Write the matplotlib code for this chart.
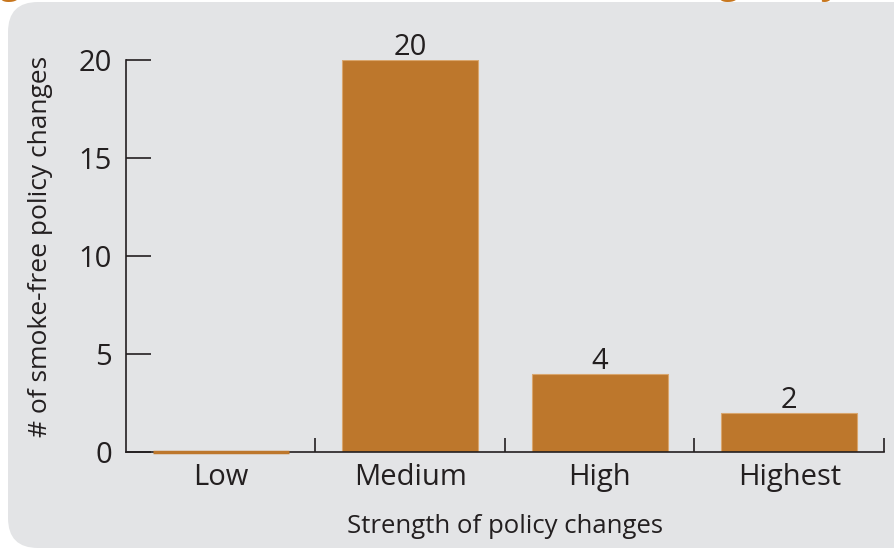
import matplotlib
matplotlib.use("Agg")
import matplotlib.pyplot as plt
from matplotlib.patches import FancyBboxPatch
import numpy as np

# Data
categories = ['Low', 'Medium', 'High', 'Highest']
counts = [0, 20, 4, 2]
y_ticks = [0, 5, 10, 15, 20]

bar_col = '#bd772c'
ink = '#231f20'
panel_col = '#e3e4e6'

plt.rcParams['font.family'] = ['Open Sans', 'DejaVu Sans']

fig = plt.figure(figsize=(8.95, 5.5), dpi=100)
fig.patch.set_facecolor('white')

# grey rounded panel behind the chart
panel = FancyBboxPatch((0.38, 0.32), 8.55, 4.86,
                       boxstyle='round,pad=0.3,rounding_size=0.3',
                       transform=fig.dpi_scale_trans, facecolor=panel_col,
                       edgecolor='none', zorder=-5)
fig.patches.append(panel)

# orange title, cut off at the top edge like in the source (only descenders show)
fig.text(-0.035, 1.013, 'Figure 5: Smoke-free local ordinance changes, by strength',
         color='#c8771e', fontsize=26, fontweight='bold', va='baseline', ha='left')

ax = fig.add_axes([126 / 895, 1 - 452 / 550, 758 / 895, 392 / 550])
ax.patch.set_alpha(0)
ax.set_zorder(2)

x = np.arange(len(categories))
bars = ax.bar(x, counts, width=0.72, color=bar_col, edgecolor='#d9a66e',
              linewidth=0.8)
# the zero bar shows as a thin orange line on the baseline
ax.plot([x[0] - 0.36, x[0] + 0.36], [0, 0], color=bar_col, lw=2.5,
        solid_capstyle='butt', zorder=3, clip_on=False)

for xi, v in zip(x, counts):
    if v > 0:
        ax.text(xi, v - 0.1, str(v), ha='center', va='bottom',
                fontsize=21, color=ink)

ax.set_xlim(-0.5, 3.5)
ax.set_ylim(0, 20)
ax.set_yticks(y_ticks)
ax.set_xticks(x)
ax.set_xticklabels(categories)
ax.set_xticks(list(x[:-1] + 0.5) + [3.5], minor=True)

ax.tick_params(axis='y', direction='in', length=18, width=1.2, color=ink,
               labelsize=21, labelcolor=ink, pad=10)
ax.tick_params(axis='x', which='major', length=0, labelsize=21,
               labelcolor=ink, pad=8)
ax.tick_params(axis='x', which='minor', direction='in', length=10, width=1.2,
               color=ink)

for s in ['top', 'right']:
    ax.spines[s].set_visible(False)
for s in ['left', 'bottom']:
    ax.spines[s].set_color(ink)
    ax.spines[s].set_linewidth(1.2)

ax.set_xlabel('Strength of policy changes', fontsize=18.5, color=ink, labelpad=16)
ax.set_ylabel('# of smoke-free policy changes', fontsize=19, color=ink)
ax.yaxis.set_label_coords(-0.096, 0.525)

fig.savefig('out.png', dpi=100)
